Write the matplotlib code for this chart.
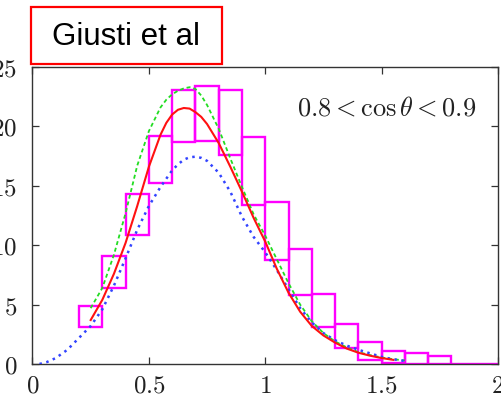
import matplotlib
matplotlib.use("Agg")
import matplotlib.pyplot as plt
from matplotlib.patches import Rectangle

plt.rcParams['mathtext.fontset'] = 'cm'

# Histogram boxes (bin left edge, lower and upper value)
bin_left = [0.2, 0.3, 0.4, 0.5, 0.6, 0.7, 0.8, 0.9, 1.0, 1.1, 1.2, 1.3, 1.4, 1.5, 1.6, 1.7, 1.8, 1.9]
box_low = [3.1, 6.4, 10.9, 15.2, 18.65, 18.75, 17.6, 13.35, 8.75, 5.85, 3.13, 1.33, 0.34, 0.08, 0, 0, 0, 0]
box_high = [4.9, 9.1, 14.3, 19.2, 23.07, 23.42, 23.03, 19.07, 13.62, 9.72, 5.87, 3.4, 1.82, 1.1, 0.9, 0.7, 0, 0]
bin_width = 0.1

# Red solid curve
red_x = [0.25, 0.30, 0.35, 0.40, 0.45, 0.50, 0.55, 0.575, 0.60, 0.625, 0.65, 0.675, 0.70, 0.725,
         0.75, 0.80, 0.85, 0.90, 0.95, 1.00, 1.05, 1.10, 1.15, 1.20, 1.25, 1.30, 1.35, 1.40,
         1.45, 1.50, 1.55]
red_y = [3.7, 5.4, 7.6, 10.2, 13.3, 16.6, 19.3, 20.3, 21.0, 21.4, 21.55, 21.5, 21.2, 20.8,
         20.2, 18.6, 16.6, 14.5, 12.3, 10.3, 8.0, 6.0, 4.4, 3.2, 2.4, 1.8, 1.3, 0.95,
         0.7, 0.5, 0.35]

# Green dashed curve
green_x = [0.25, 0.30, 0.35, 0.40, 0.45, 0.50, 0.55, 0.575, 0.60, 0.625, 0.65, 0.675, 0.70,
           0.725, 0.75, 0.80, 0.85, 0.90, 0.95, 1.00, 1.05, 1.10, 1.15, 1.20, 1.25, 1.30,
           1.35, 1.40, 1.45, 1.50, 1.55, 1.60]
green_y = [4.7, 6.4, 9.2, 12.7, 16.7, 19.6, 21.6, 22.25, 22.7, 23.0, 23.2, 23.3, 23.15,
           22.6, 21.8, 19.8, 17.3, 14.9, 12.6, 10.8, 8.8, 6.8, 5.0, 3.6, 2.6, 1.9,
           1.4, 1.0, 0.75, 0.55, 0.4, 0.3]

# Blue dotted curve
blue_x = [0.03, 0.06, 0.10, 0.15, 0.20, 0.25, 0.30, 0.35, 0.40, 0.45, 0.50, 0.55, 0.60, 0.625,
          0.65, 0.675, 0.70, 0.725, 0.75, 0.80, 0.85, 0.90, 0.95, 1.00, 1.05, 1.10, 1.15,
          1.20, 1.25, 1.30, 1.35, 1.40, 1.45, 1.50, 1.55, 1.60]
blue_y = [0.0, 0.15, 0.5, 1.2, 2.2, 3.2, 4.6, 6.6, 8.9, 11.3, 13.3, 14.9, 16.3, 16.8,
          17.2, 17.4, 17.45, 17.35, 17.1, 16.1, 14.5, 12.4, 10.7, 9.4, 7.9, 6.3, 4.7,
          3.5, 2.6, 2.0, 1.55, 1.2, 0.9, 0.6, 0.4, 0.25]

x_ticks = [0, 0.5, 1, 1.5, 2]
x_tick_labels = ['$0$', '$0.5$', '$1$', '$1.5$', '$2$']
y_ticks = [0, 5, 10, 15, 20, 25]
y_tick_labels = ['$0$', '$5$', '$10$', '$15$', '$20$', '$25$']

fig = plt.figure(figsize=(5.02, 3.97), dpi=100)
ax = fig.add_axes([32.5 / 502, 33 / 397, 465.5 / 502, 297 / 397])

heights = [h - l for h, l in zip(box_high, box_low)]
ax.bar(bin_left, heights, bottom=box_low, width=bin_width, align='edge',
       fill=False, edgecolor='#ff00ff', linewidth=1.7, zorder=2)

ax.plot(green_x, green_y, color='#22dd22', linestyle=(0, (2.2, 1.6)), linewidth=1.3, zorder=3)
ax.plot(blue_x, blue_y, color='#3344ff', linestyle=(0, (1, 1.8)), linewidth=1.8, zorder=3)
ax.plot(red_x, red_y, color='#ff1111', linestyle='-', linewidth=1.5, zorder=4)

ax.set_xlim(0, 2)
ax.set_ylim(0, 25)
ax.set_xticks(x_ticks)
ax.set_xticklabels(x_tick_labels)
ax.set_yticks(y_ticks)
ax.set_yticklabels(y_tick_labels)
ax.tick_params(direction='in', top=True, right=True, length=5, width=0.9,
               color='#333333', labelsize=18, labelcolor='#222222')
ax.tick_params(axis='x', pad=7)
ax.tick_params(axis='y', pad=11)
for s in ax.spines.values():
    s.set_color('#333333')
    s.set_linewidth(1.0)

ax.text(1.521, 21.5, r'$0.8 < \cos\theta < 0.9$', fontsize=19, ha='center', va='center',
        color='#222222')

fig.patches.append(Rectangle((31 / 502, 1 - 64 / 397), 191 / 502, 57 / 397,
                             transform=fig.transFigure, fill=False,
                             edgecolor='#ff0000', linewidth=1.6))
fig.text(126 / 502, 1 - 37 / 397, 'Giusti et al', fontsize=22.5,
         family=['Liberation Sans', 'DejaVu Sans'], ha='center', va='center', color='black')

fig.savefig('out.png', dpi=100)
